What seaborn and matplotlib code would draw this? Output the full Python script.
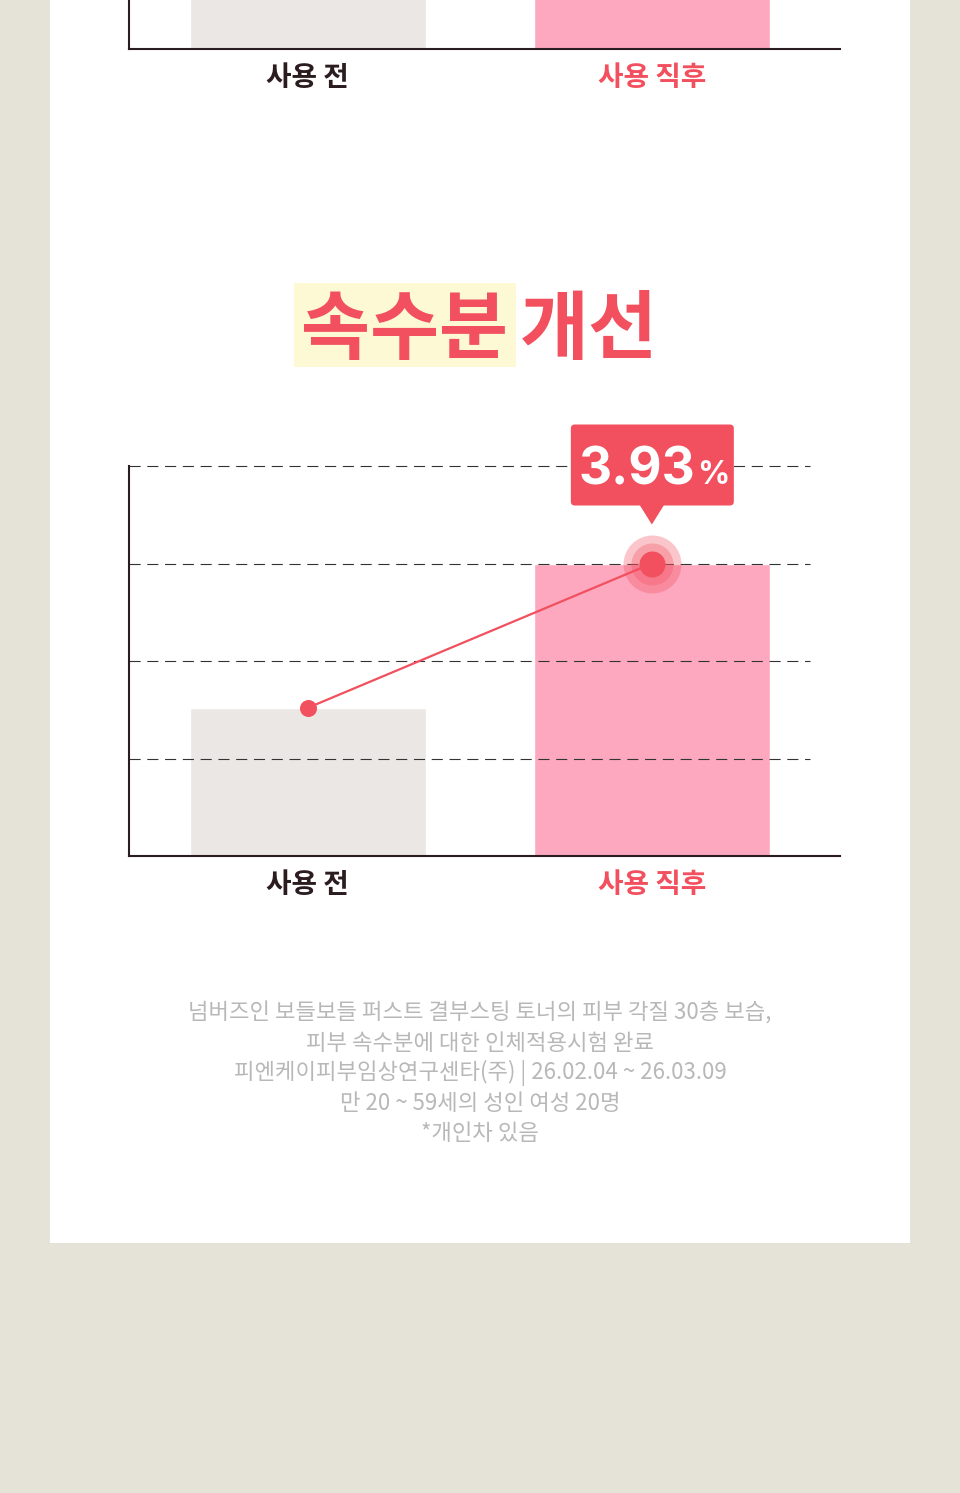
import matplotlib
matplotlib.use("Agg")
import matplotlib.pyplot as plt
import matplotlib.transforms as mtransforms
from matplotlib.patches import FancyBboxPatch, Polygon, Rectangle
import seaborn as sns

# --- data ---
categories = ["사용 전", "사용 직후"]
moisture = [1.52, 3.0]            # bar heights on the 4-step dashed grid
moisture_value = "3.93"
moisture_unit = "%"
prev_values = [3.2, 3.6]          # previous chart, only its base shows at the top
grid_levels = [1, 2, 3, 4]

title_highlight = "속수분"
title_rest = "개선"
footnote = [
    "넘버즈인 보들보들 퍼스트 결부스팅 토너의 피부 각질 30층 보습,",
    "피부 속수분에 대한 인체적용시험 완료",
    "피엔케이피부임상연구센타(주) | 26.02.04 ~ 26.03.09",
    "만 20 ~ 59세의 성인 여성 20명",
    "*개인차 있음",
]

# --- style ---
W, H = 960, 1493
BG = "#E5E3D8"
RED = "#F2505E"
PINK = "#FDA8BF"
GRAY = "#EBE7E4"
INK = "#2B1C1F"
NOTE = "#B8B8B8"

sns.set_theme(style="white")
plt.rcParams["font.family"] = ["Noto Sans CJK KR", "DejaVu Sans"]


def fx(px):
    return px / W


def fy(py):
    return 1 - py / H


fig = plt.figure(figsize=(W / 100, H / 100), dpi=100, facecolor=BG)

# white card behind everything
fig.add_artist(Rectangle((fx(50), fy(1243)), 860 / W, 1243 / H,
                         transform=fig.transFigure, fc="white", ec="none", zorder=-1))


def bar_panel(ax, values, ylim):
    sns.barplot(x=categories, y=values, hue=categories, palette=[GRAY, PINK],
                width=0.686, saturation=1, legend=False, ax=ax, zorder=1)
    ax.set_xlim(-0.52, 1.547)
    ax.set_ylim(*ylim)
    ax.set_facecolor("none")
    ax.set_xlabel("")
    ax.set_ylabel("")
    ax.set_yticks([])
    ax.tick_params(axis="x", length=0, pad=11)
    for lbl, c in zip(ax.get_xticklabels(), [INK, RED]):
        lbl.set_color(c)
        lbl.set_fontsize(20)
        lbl.set_fontweight("bold")
    for side in ["top", "right"]:
        ax.spines[side].set_visible(False)
    for side in ["left", "bottom"]:
        ax.spines[side].set_color(INK)
        ax.spines[side].set_linewidth(1.5)


# previous chart, cut off at the top edge
ax_top = fig.add_axes([fx(129), fy(49), 711 / W, 200 / H])
bar_panel(ax_top, prev_values, (0, 4))

# main chart
ax = fig.add_axes([fx(129), fy(856), 711 / W, 390 / H])
bar_panel(ax, moisture, (0, 4))
ax.hlines(grid_levels, -0.52, 1.46, colors="#333333", lw=0.8,
          linestyles=(0, (10, 6)), zorder=2, clip_on=False)

pos = list(range(len(categories)))
sns.lineplot(x=pos, y=moisture, color=RED, lw=1.6, ax=ax, zorder=4)
ax.scatter(pos[0], moisture[0], s=150, color=RED, lw=0, zorder=5)
# glow on the "after" point
ax.scatter(pos[1], moisture[1], s=1744, color=RED, alpha=0.32, lw=0, zorder=5, clip_on=False)
ax.scatter(pos[1], moisture[1], s=914, color=RED, alpha=0.32, lw=0, zorder=5, clip_on=False)
ax.scatter(pos[1], moisture[1], s=350, color=RED, lw=0, zorder=5, clip_on=False)

# callout above the "after" point (units in inches from the point)
trans = fig.dpi_scale_trans + mtransforms.ScaledTranslation(pos[1], moisture[1], ax.transData)
fig.add_artist(FancyBboxPatch((-0.81, 0.58), 1.63, 0.81,
                              boxstyle="round,pad=0,rounding_size=0.04",
                              transform=trans, fc=RED, ec="none", zorder=6))
fig.add_artist(Polygon([(-0.125, 0.59), (0.125, 0.59), (0, 0.39)],
                       closed=True, transform=trans, fc=RED, ec="none", zorder=6))
fig.text(0.43, 0.79, moisture_value, transform=trans, ha="right", va="baseline",
         fontsize=37, weight="bold", color="white", family=["Inter", "DejaVu Sans"], zorder=7)
fig.text(0.45, 0.79, moisture_unit, transform=trans, ha="left", va="baseline",
         fontsize=23, weight="bold", color="white", family=["Inter", "DejaVu Sans"], zorder=7)

# title
fig.add_artist(Rectangle((fx(294), fy(367)), 222 / W, 84 / H,
                         transform=fig.transFigure, fc="#FDF9D4", ec="none", zorder=0))
fig.text(fx(404), fy(331), title_highlight, ha="center", va="center",
         fontsize=54, weight="black", color=RED, zorder=1)
fig.text(fx(589), fy(331), title_rest, ha="center", va="center",
         fontsize=54, weight="black", color=RED, zorder=1)

# footnote
for i, line in enumerate(footnote):
    fig.text(fx(480), fy(1013 + 30 * i), line, ha="center", va="center",
             fontsize=16, color=NOTE, weight="light")

fig.savefig("out.png", dpi=100, facecolor=BG)
